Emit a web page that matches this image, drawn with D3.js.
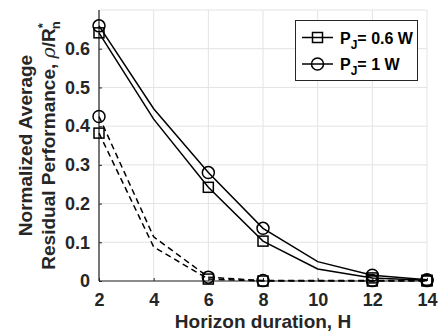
<!DOCTYPE html>
<html>
<head>
<meta charset="utf-8">
<script src="https://cdn.jsdelivr.net/npm/d3@7"></script>
<style>
  body { margin: 0; background: #fff; }
  text { font-family: "Liberation Sans", Arial, sans-serif; font-weight: bold; fill: #262626; }
</style>
</head>
<body>
<div class="chart"></div>
<script>
// chart data
var horizon = [2, 4, 6, 8, 10, 12, 14];
var solid06 = [0.641, 0.418, 0.242, 0.103, 0.031, 0.008, 0.002];
var solid1 = [0.659, 0.445, 0.280, 0.136, 0.050, 0.015, 0.003];
var dashed06 = [0.382, 0.088, 0.005, 0.0, 0.0, 0.0, 0.0];
var dashed1 = [0.425, 0.114, 0.010, 0.001, 0.001, 0.001, 0.001];
var markerIdx = [0, 2, 3, 5, 6];
var xTicks = [2, 4, 6, 8, 10, 12, 14];
var yTicks = [0, 0.1, 0.2, 0.3, 0.4, 0.5, 0.6];

var svgWidth = 438;
var svgHeight = 333;
var margin = { top: 10, right: 11, bottom: 52, left: 99 };
var width = svgWidth - margin.left - margin.right;
var height = svgHeight - margin.top - margin.bottom;

var svg = d3.select(".chart")
    .append("svg")
    .attr("width", svgWidth)
    .attr("height", svgHeight);

var chartGroup = svg.append("g")
    .attr("transform", `translate(${margin.left}, ${margin.top})`);

var xScale = d3.scaleLinear().domain([2, 14]).range([0, width]);
var yScale = d3.scaleLinear().domain([0, 0.7]).range([height, 0]);

// grid
chartGroup.append("g").selectAll("line")
    .data(xTicks).enter().append("line")
    .attr("x1", d => xScale(d)).attr("x2", d => xScale(d))
    .attr("y1", 0).attr("y2", height)
    .attr("stroke", "#e3e3e3").attr("stroke-width", 1);
chartGroup.append("g").selectAll("line")
    .data(yTicks.concat([0.7])).enter().append("line")
    .attr("x1", 0).attr("x2", width)
    .attr("y1", d => yScale(d)).attr("y2", d => yScale(d))
    .attr("stroke", "#e3e3e3").attr("stroke-width", 1);

// axes
var xAxis = d3.axisBottom(xScale).tickValues(xTicks).tickSizeInner(-3).tickSizeOuter(0).tickPadding(12);
var yAxis = d3.axisLeft(yScale).tickValues(yTicks).tickSizeInner(-3).tickSizeOuter(0).tickPadding(9)
    .tickFormat(d => d === 0 ? "0" : d3.format(".1f")(d));

var gx = chartGroup.append("g")
    .attr("transform", `translate(0,${height})`)
    .call(xAxis);
var gy = chartGroup.append("g").call(yAxis);

[gx, gy].forEach(function(g) {
    g.select(".domain").attr("stroke", "#262626").attr("stroke-width", 1.2);
    g.selectAll(".tick line").attr("stroke", "#262626");
    g.selectAll(".tick text")
        .attr("font-size", 18)
        .attr("font-family", "Liberation Sans, Arial, sans-serif")
        .attr("font-weight", "bold")
        .attr("fill", "#262626");
});
gy.select(".domain").attr("d", `M0,${height}V0`);
gx.select(".domain").attr("d", `M0,0H${width}`);

// series
var series = [
    { values: solid06, dash: null, marker: "square" },
    { values: solid1, dash: null, marker: "circle" },
    { values: dashed06, dash: "6,4", marker: "square" },
    { values: dashed1, dash: "6,4", marker: "circle" }
];

var line = d3.line()
    .x((d, i) => xScale(horizon[i]))
    .y(d => yScale(d));

function drawMarker(g, type, cx, cy) {
    if (type === "square") {
        g.append("rect")
            .attr("x", cx - 5).attr("y", cy - 5)
            .attr("width", 10).attr("height", 10)
            .attr("fill", "none").attr("stroke", "#000").attr("stroke-width", 1.5);
    } else {
        g.append("circle")
            .attr("cx", cx).attr("cy", cy).attr("r", 6)
            .attr("fill", "none").attr("stroke", "#000").attr("stroke-width", 1.5);
    }
}

series.forEach(function(s) {
    chartGroup.append("path")
        .datum(s.values)
        .attr("d", line)
        .attr("fill", "none")
        .attr("stroke", "#000")
        .attr("stroke-width", 1.5)
        .attr("stroke-dasharray", s.dash);
    var mg = chartGroup.append("g");
    markerIdx.forEach(function(i) {
        drawMarker(mg, s.marker, xScale(horizon[i]), yScale(s.values[i]));
    });
});

// legend
var legend = svg.append("g").attr("transform", "translate(295,20)");
legend.append("rect")
    .attr("x", 0.5).attr("y", 0.5).attr("width", 122).attr("height", 60)
    .attr("fill", "#fff").attr("stroke", "#262626").attr("stroke-width", 1);
var legendItems = [
    { marker: "square", label: "0.6 W" },
    { marker: "circle", label: "1 W" }
];
legendItems.forEach(function(item, i) {
    var y = 17.5 + i * 26.5;
    legend.append("line")
        .attr("x1", 7).attr("x2", 38).attr("y1", y).attr("y2", y)
        .attr("stroke", "#000").attr("stroke-width", 1.5);
    drawMarker(legend, item.marker, 22.5, y);
    var t = legend.append("text")
        .attr("x", 45).attr("y", y + 6)
        .attr("font-size", 16)
        .style("fill", "#000");
    t.append("tspan").text("P");
    t.append("tspan").attr("dy", 5).attr("font-size", 12).text("J");
    t.append("tspan").attr("dy", -5).text("= " + item.label);
});

// axis labels
svg.append("text")
    .attr("x", margin.left + width / 2)
    .attr("y", 328)
    .attr("text-anchor", "middle")
    .attr("font-size", 19)
    .text("Horizon duration, H");

var yLab = svg.append("g")
    .attr("transform", `translate(0,${margin.top + height / 2}) rotate(-90)`);
yLab.append("text")
    .attr("x", 0).attr("y", 32)
    .attr("text-anchor", "middle")
    .attr("font-size", 19)
    .text("Normalized Average");
var l2 = yLab.append("text")
    .attr("x", 0).attr("y", 55)
    .attr("text-anchor", "middle")
    .attr("font-size", 19);
l2.append("tspan").text("Residual Performance, ");
l2.append("tspan").attr("font-style", "italic").attr("font-weight", "normal")
    .attr("font-family", "DejaVu Serif, serif").text("ρ");
l2.append("tspan").text("/R");
l2.append("tspan").attr("dy", -8).attr("font-size", 13).text("*");
l2.append("tspan").attr("dx", -6).attr("dy", 13).attr("font-size", 13).text("n");
</script>
</body>
</html>
